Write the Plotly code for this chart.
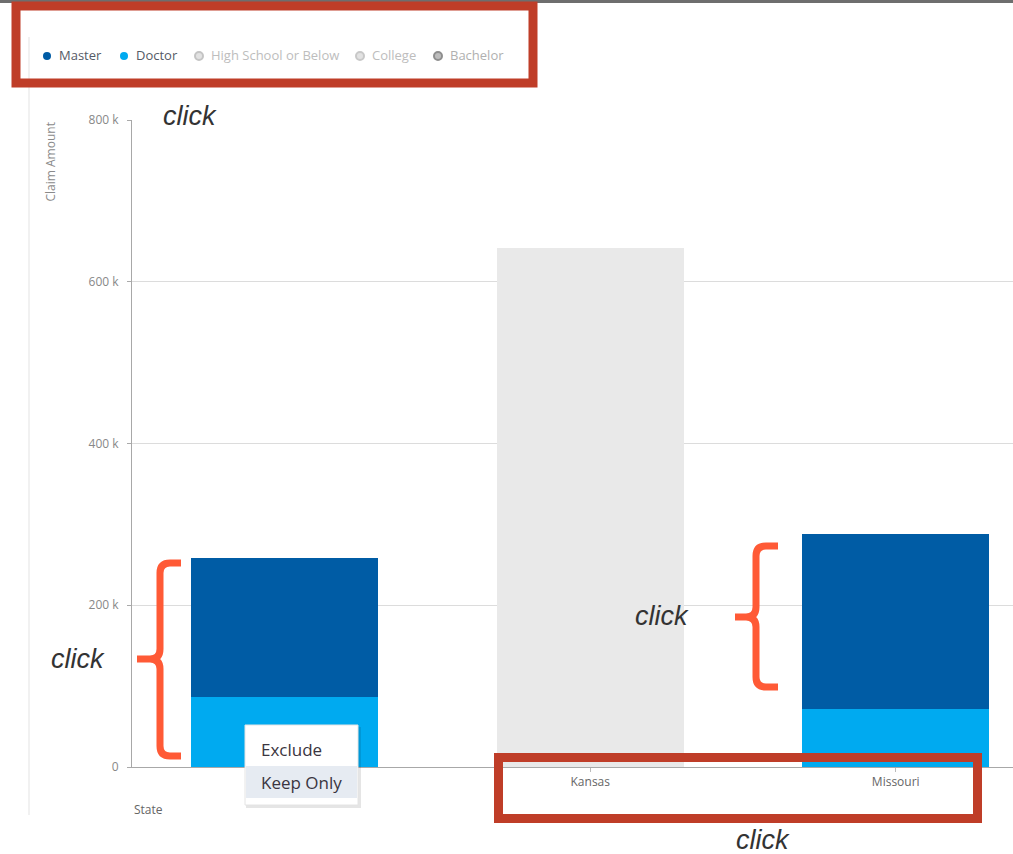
import plotly.graph_objects as go

# ---- data ----
states = ["Iowa", "Kansas", "Missouri"]
x_ticktext = ["", "Kansas", "Missouri"]   # first label is hidden under the context menu
doctor = [87000, 0, 72000]
master = [172000, 0, 216000]
deselected = [0, 642000, 0]          # Kansas shown greyed-out (not selected)
legend_names = ["Master", "Doctor", "High School or Below", "College", "Bachelor"]
y_tickvals = [0, 200000, 400000, 600000, 800000]
y_ticktext = ["0", "200 k", "400 k", "600 k", "800 k"]

W, H = 1013, 854
L, R, T, B = 132, 0, 120, 87
PW, PH = W - L - R, H - T - B


def px(x):
    return (x - L) / PW


def py(y):
    return (H - B - y) / PH


FONT = "Open Sans, Noto Sans, sans-serif"
MASTER_C = "#005ca5"
DOCTOR_C = "#00aaf0"
GREY_C = "#e9e9e9"
RED = "#bf3d28"
ORANGE = "#ff5a36"

fig = go.Figure()
fig.add_trace(go.Bar(x=states, y=doctor, name="Doctor", marker_color=DOCTOR_C,
                     marker_line_width=0, showlegend=False))
fig.add_trace(go.Bar(x=states, y=master, name="Master", marker_color=MASTER_C,
                     marker_line_width=0, showlegend=False))
fig.add_trace(go.Bar(x=states, y=deselected, name="deselected", marker_color=GREY_C,
                     marker_line_width=0, showlegend=False))

fig.update_layout(
    width=W, height=H, barmode="stack", bargap=0.388,
    margin=dict(l=L, r=R, t=T, b=B, pad=0),
    paper_bgcolor="white", plot_bgcolor="white",
    font=dict(family=FONT, color="#777"),
    hovermode=False,
)
fig.update_xaxes(range=[-0.5, -0.5 + PW / 305.5], showgrid=False,
                 tickvals=states, ticktext=x_ticktext,
                 showline=True, linecolor="#a8a8a8", linewidth=1,
                 ticks="outside", ticklen=4, tickcolor="#bbb",
                 tickfont=dict(size=12, color="#666", family=FONT), fixedrange=True)
fig.update_yaxes(range=[0, 800000], tickvals=y_tickvals, ticktext=y_ticktext,
                 showgrid=True, gridcolor="#dcdcdc", gridwidth=1,
                 showline=True, linecolor="#a8a8a8", linewidth=1,
                 ticks="outside", ticklen=4, tickcolor="#aaa",
                 ticklabelstandoff=6, zeroline=False,
                 tickfont=dict(size=12, color="#888", family=FONT), fixedrange=True)

shapes = []
annotations = []

# top dark strip and left panel border
shapes.append(dict(type="rect", xref="paper", yref="paper", x0=px(0), x1=px(W),
                   y0=py(3), y1=py(-2), fillcolor="#6e6e6e", line_width=0, layer="above"))
shapes.append(dict(type="line", xref="paper", yref="paper", x0=px(29), x1=px(29),
                   y0=py(37), y1=py(815), line=dict(color="#ececec", width=1.5), layer="below"))

# axis titles
annotations.append(dict(text="Claim Amount", xref="paper", yref="paper", x=px(50), y=py(121),
                        xanchor="center", yanchor="top", textangle=-90, showarrow=False,
                        font=dict(size=12, color="#8a8a8a", family=FONT)))
annotations.append(dict(text="State", xref="paper", yref="paper", x=px(132), y=py(809),
                        xanchor="left", yanchor="middle", showarrow=False,
                        font=dict(size=12, color="#666", family=FONT)))

# custom legend
leg_dot_x = [47, 124, 199, 360, 438]
leg_txt_x = [57, 134, 209, 370, 448]
leg_fill = [MASTER_C, DOCTOR_C, "#e2e2e2", "#e2e2e2", "#bdbdbd"]
leg_line = [MASTER_C, DOCTOR_C, "#c4c4c4", "#c8c8c8", "#8e8e8e"]
leg_txtc = ["#555a66", "#555a66", "#bdbdbd", "#bdbdbd", "#b0b0b0"]
for i, name in enumerate(legend_names):
    cx, cy = leg_dot_x[i], 56
    shapes.append(dict(type="circle", xref="paper", yref="paper",
                       x0=px(cx - 4), x1=px(cx + 4), y0=py(cy + 4), y1=py(cy - 4),
                       fillcolor=leg_fill[i], line=dict(color=leg_line[i], width=2 if i > 1 else 0),
                       layer="above"))
    annotations.append(dict(text=name, xref="paper", yref="paper", x=px(leg_txt_x[i]), y=py(55),
                            xanchor="left", yanchor="middle", showarrow=False,
                            font=dict(size=13, color=leg_txtc[i], family=FONT)))

# red highlight boxes
shapes.append(dict(type="rect", xref="paper", yref="paper", x0=px(16), x1=px(533),
                   y0=py(83), y1=py(6), line=dict(color=RED, width=9), fillcolor="rgba(0,0,0,0)",
                   layer="above"))
shapes.append(dict(type="rect", xref="paper", yref="paper", x0=px(498.5), x1=px(977.5),
                   y0=py(818.5), y1=py(757.5), line=dict(color=RED, width=9),
                   fillcolor="rgba(0,0,0,0)", layer="above"))


def brace_path(xr, xv, xt, y0, ym, y1, r=10):
    pts = [
        f"M {px(xr)},{py(y0)}",
        f"L {px(xv + r)},{py(y0)}",
        f"Q {px(xv)},{py(y0)} {px(xv)},{py(y0 + r)}",
        f"L {px(xv)},{py(ym - r)}",
        f"Q {px(xv)},{py(ym)} {px(xv - r)},{py(ym)}",
        f"L {px(xt)},{py(ym)}",
        f"M {px(xv - r)},{py(ym)}",
        f"Q {px(xv)},{py(ym)} {px(xv)},{py(ym + r)}",
        f"L {px(xv)},{py(y1 - r)}",
        f"Q {px(xv)},{py(y1)} {px(xv + r)},{py(y1)}",
        f"L {px(xr)},{py(y1)}",
    ]
    return " ".join(pts)


shapes.append(dict(type="path", xref="paper", yref="paper",
                   path=brace_path(181, 160, 137, 563, 659, 756),
                   line=dict(color=ORANGE, width=7), layer="above"))
shapes.append(dict(type="path", xref="paper", yref="paper",
                   path=brace_path(778, 756, 735, 546, 617, 687),
                   line=dict(color=ORANGE, width=7), layer="above"))

# context menu
shapes.append(dict(type="rect", xref="paper", yref="paper", x0=px(246), x1=px(361),
                   y0=py(808), y1=py(727), fillcolor="rgba(0,0,0,0.10)", line_width=0, layer="above"))
shapes.append(dict(type="rect", xref="paper", yref="paper", x0=px(245), x1=px(358),
                   y0=py(805), y1=py(725), fillcolor="white", line=dict(color="#e4e4e4", width=1),
                   layer="above"))
shapes.append(dict(type="rect", xref="paper", yref="paper", x0=px(246), x1=px(357),
                   y0=py(798), y1=py(766), fillcolor="#e6ebf2", line_width=0, layer="above"))
annotations.append(dict(text="Exclude", xref="paper", yref="paper", x=px(259), y=py(749),
                        xanchor="left", yanchor="middle", showarrow=False,
                        font=dict(size=17, color="#3a3540", family=FONT)))
annotations.append(dict(text="Keep Only", xref="paper", yref="paper", x=px(259), y=py(782),
                        xanchor="left", yanchor="middle", showarrow=False,
                        font=dict(size=17, color="#3a3540", family=FONT)))

# "click" notes
for (cx, cy) in [(190, 116), (78, 659), (662, 616), (763, 840)]:
    annotations.append(dict(text="click", xref="paper", yref="paper", x=px(cx), y=py(cy),
                            xanchor="center", yanchor="middle", showarrow=False,
                            font=dict(size=27, color="#333", family="Liberation Sans, Arial, sans-serif",
                                      style="italic")))

fig.update_layout(shapes=shapes, annotations=annotations)
fig.write_html("out.html", config={"displayModeBar": False})
